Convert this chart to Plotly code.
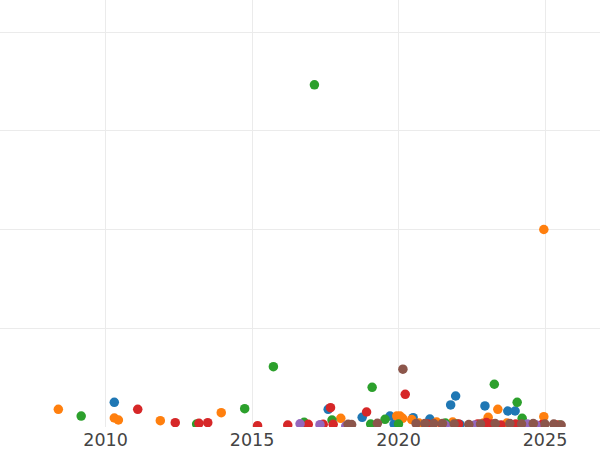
import plotly.graph_objects as go

# decimal years and values for each series
blue_x = [2010.30, 2017.60, 2018.76, 2019.71, 2019.85, 2020.50, 2020.90, 2021.07, 2021.78, 2021.95, 2022.10, 2022.95, 2023.73, 2023.98, 2024.60]
blue_y = [25.0, 17.9, 9.8, 11.1, 3.0, 9.4, 2.0, 8.1, 22.3, 31.4, 2.5, 21.3, 16.2, 16.2, 2.0]

orange_x = [2008.39, 2010.30, 2010.44, 2011.87, 2013.95, 2018.03, 2019.94, 2020.05, 2020.14, 2020.45, 2020.70, 2021.30, 2021.85, 2022.90, 2023.06, 2023.39, 2023.70, 2024.30, 2024.96, 2024.96]
orange_y = [17.9, 9.1, 7.1, 6.4, 14.5, 8.8, 11.1, 11.1, 8.8, 7.5, 4.0, 5.0, 5.0, 4.0, 9.8, 17.9, 4.0, 3.0, 10.4, 200.0]

green_x = [2009.17, 2013.11, 2014.75, 2015.73, 2016.78, 2017.13, 2017.73, 2019.05, 2019.10, 2019.54, 2020.00, 2021.60, 2022.00, 2023.27, 2024.05, 2024.22, 2025.50]
green_y = [11.1, 3.0, 18.5, 61.1, 4.7, 346.5, 7.1, 3.0, 40.2, 7.8, 3.0, 4.0, 3.0, 43.3, 25.0, 8.8, 2.0]

red_x = [2011.10, 2012.38, 2013.19, 2013.49, 2015.19, 2016.22, 2016.92, 2017.43, 2017.68, 2017.77, 2018.91, 2020.23, 2021.00, 2021.50, 2022.05, 2022.70, 2023.00, 2023.20, 2023.50, 2024.00, 2024.90, 2025.40]
red_y = [17.9, 4.4, 3.7, 4.4, 1.3, 2.0, 2.7, 2.7, 19.6, 2.7, 15.2, 33.1, 3.0, 2.5, 3.0, 3.0, 4.5, 3.0, 2.0, 3.0, 2.5, 2.0]

purple_x = [2016.64, 2017.32, 2018.20, 2021.60, 2022.60, 2024.40, 2024.70]
purple_y = [3.3, 2.3, 1.0, 2.0, 2.0, 3.0, 2.0]

brown_x = [2018.28, 2018.40, 2019.28, 2020.15, 2020.60, 2020.90, 2021.20, 2021.50, 2021.90, 2022.40, 2022.80, 2023.30, 2023.80, 2024.20, 2024.60, 2025.00, 2025.30, 2025.55]
brown_y = [2.7, 2.5, 3.7, 58.5, 3.5, 3.5, 3.5, 3.5, 3.0, 2.5, 3.0, 3.5, 3.5, 3.0, 3.5, 3.0, 3.0, 2.0]

series = [
    ("A", blue_x, blue_y, "#1f77b4"),
    ("B", orange_x, orange_y, "#ff7f0e"),
    ("C", green_x, green_y, "#2ca02c"),
    ("D", red_x, red_y, "#d62728"),
    ("E", purple_x, purple_y, "#9467bd"),
    ("F", brown_x, brown_y, "#8c564b"),
]

fig = go.Figure()
for name, xs, ys, col in series:
    fig.add_trace(go.Scatter(x=xs, y=ys, mode="markers", name=name,
                             marker=dict(color=col, size=9.5, line=dict(width=0))))

fig.update_layout(
    width=600, height=450,
    margin=dict(l=0, r=0, t=0, b=23),
    paper_bgcolor="white", plot_bgcolor="white",
    showlegend=False,
    font=dict(family="DejaVu Sans", size=17.5, color="#444"),
    xaxis=dict(range=[2006.399, 2026.877], tick0=2010, dtick=5, tickformat="d",
               showgrid=True, gridcolor="#ebebeb", gridwidth=1, zeroline=False,
               showline=False, ticks=""),
    yaxis=dict(range=[0, 432.4], tick0=0, dtick=100, showticklabels=False,
               showgrid=True, gridcolor="#ebebeb", gridwidth=1, zeroline=False,
               showline=False, ticks=""),
)

fig.write_html("out.html",
               config={"displayModeBar": False},
               post_script="document.body.style.margin='0';document.body.style.overflow='hidden';")
